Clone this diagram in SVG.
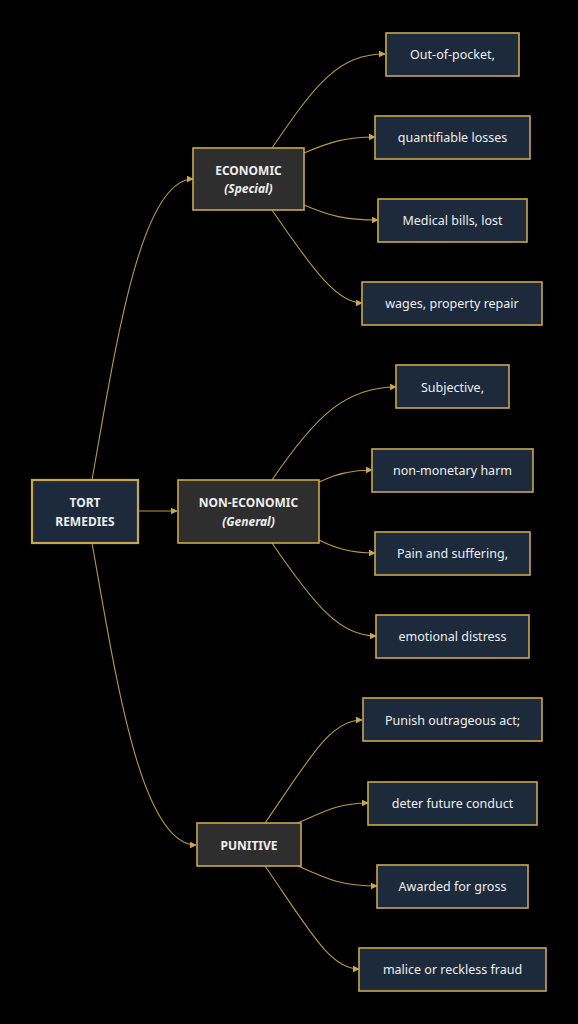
<svg xmlns="http://www.w3.org/2000/svg" width="578" height="1024" viewBox="0 0 578 1024">
<style>
.bg{fill:#000}
.leaf{fill:#1c2a3c;stroke:#c9a84c;stroke-width:1.6}
.cat{fill:#2e2e2e;stroke:#c9a84c;stroke-width:1.6}
.root{fill:#1c2a3c;stroke:#c9a84c;stroke-width:2.2}
text{font-family:"Noto Sans","Open Sans",sans-serif;fill:#eeeeee;text-anchor:middle;dominant-baseline:central}
.t{font-size:12.5px}
.b{font-size:12px;font-weight:bold}
.bi{font-size:12px;font-weight:bold;font-style:italic}
.e{fill:none;stroke:#b89a48;stroke-width:1.1}
</style>
<defs>
<marker id="ah" viewBox="0 0 10 10" refX="9" refY="5" markerWidth="7" markerHeight="7" orient="auto" markerUnits="userSpaceOnUse">
<path d="M0,0 L10,5 L0,10 z" fill="#c9a84c"/>
</marker>
</defs>
<rect class="bg" x="0" y="0" width="578" height="1024"/>
<g id="connectors">
<path class="e" marker-end="url(#ah)" d="M92,480 C115,350 140,179 193,179"/>
<path class="e" marker-end="url(#ah)" d="M138,511 L177,511"/>
<path class="e" marker-end="url(#ah)" d="M92,543 C115,672 140,845 196,845"/>
<path class="e" marker-end="url(#ah)" d="M272,148 C315,85 338,54 385,54"/>
<path class="e" marker-end="url(#ah)" d="M304,153 C330,142 345,137 375,137"/>
<path class="e" marker-end="url(#ah)" d="M304,205 C330,216 345,220 378,220"/>
<path class="e" marker-end="url(#ah)" d="M272,210 C315,273 338,303 362,303"/>
<path class="e" marker-end="url(#ah)" d="M272,480 C315,417 345,387 396,387"/>
<path class="e" marker-end="url(#ah)" d="M319,482 C335,474 350,470 372,470"/>
<path class="e" marker-end="url(#ah)" d="M319,540 C335,548 350,553 375,553"/>
<path class="e" marker-end="url(#ah)" d="M272,543 C315,606 340,636 376,636"/>
<path class="e" marker-end="url(#ah)" d="M265,823 C310,758 330,720 362,720"/>
<path class="e" marker-end="url(#ah)" d="M298,823 C325,811 340,803 368,803"/>
<path class="e" marker-end="url(#ah)" d="M298,866 C325,878 340,886 377,886"/>
<path class="e" marker-end="url(#ah)" d="M265,866 C310,931 330,969 359,969"/>
</g>
<g id="root">
<rect class="root" x="32" y="480" width="106" height="63"/>
<text class="b" x="85" y="502">TORT</text>
<text class="b" x="85" y="521">REMEDIES</text>
</g>
<g id="economic">
<rect class="cat" x="193" y="148" width="111" height="62"/>
<text class="b" x="248.5" y="170">ECONOMIC</text>
<text class="bi" x="248.5" y="188">(Special)</text>
</g>
<g id="noneconomic">
<rect class="cat" x="178" y="480" width="141" height="63"/>
<text class="b" x="248.5" y="502">NON-ECONOMIC</text>
<text class="bi" x="248.5" y="521">(General)</text>
</g>
<g id="punitive">
<rect class="cat" x="197" y="823" width="104" height="43"/>
<text class="b" x="249" y="845">PUNITIVE</text>
</g>
<g id="e1"><rect class="leaf" x="386" y="33" width="133" height="43"/><text class="t" x="452.5" y="54">Out-of-pocket,</text></g>
<g id="e2"><rect class="leaf" x="375" y="116" width="155" height="43"/><text class="t" x="452.5" y="137">quantifiable losses</text></g>
<g id="e3"><rect class="leaf" x="378" y="199" width="149" height="43"/><text class="t" x="452.5" y="220">Medical bills, lost</text></g>
<g id="e4"><rect class="leaf" x="362" y="282" width="180" height="43"/><text class="t" x="452" y="303">wages, property repair</text></g>
<g id="n1"><rect class="leaf" x="396" y="365" width="113" height="43"/><text class="t" x="452.5" y="387">Subjective,</text></g>
<g id="n2"><rect class="leaf" x="372" y="449" width="161" height="43"/><text class="t" x="452.5" y="470">non-monetary harm</text></g>
<g id="n3"><rect class="leaf" x="375" y="532" width="155" height="43"/><text class="t" x="452.5" y="553">Pain and suffering,</text></g>
<g id="n4"><rect class="leaf" x="376" y="615" width="153" height="43"/><text class="t" x="452.5" y="636">emotional distress</text></g>
<g id="p1"><rect class="leaf" x="363" y="698" width="179" height="43"/><text class="t" x="452.5" y="720">Punish outrageous act;</text></g>
<g id="p2"><rect class="leaf" x="368" y="782" width="169" height="43"/><text class="t" x="452.5" y="803">deter future conduct</text></g>
<g id="p3"><rect class="leaf" x="377" y="865" width="151" height="43"/><text class="t" x="452.5" y="886">Awarded for gross</text></g>
<g id="p4"><rect class="leaf" x="359" y="948" width="187" height="43"/><text class="t" x="452.5" y="969">malice or reckless fraud</text></g>
</svg>
